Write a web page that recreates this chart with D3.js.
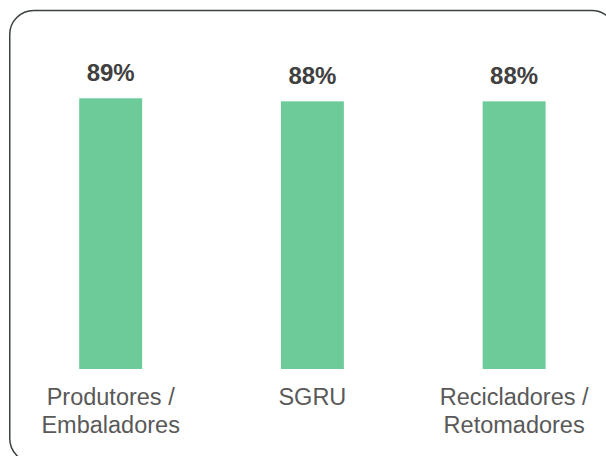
<!DOCTYPE html>
<html>
<head>
<meta charset="utf-8">
<script src="https://cdn.jsdelivr.net/npm/d3@7"></script>
<style>
  html, body { margin: 0; padding: 0; background: #fff; }
  svg { display: block; }
</style>
</head>
<body>
<svg id="chart" width="606" height="456"></svg>
<script>
const categories = [["Produtores /", "Embaladores"], ["SGRU"], ["Recicladores /", "Retomadores"]];
const values = [89, 88, 88];
const valueLabels = ["89%", "88%", "88%"];

const svg = d3.select("#chart");

// frame
svg.append("rect")
  .attr("x", 9.75).attr("y", 10.5)
  .attr("width", 606).attr("height", 452)
  .attr("rx", 24).attr("ry", 24)
  .attr("fill", "none")
  .attr("stroke", "#3b4141")
  .attr("stroke-width", 1.5);

const x = d3.scaleBand()
  .domain(d3.range(values.length))
  .range([9.8, 615])
  .paddingInner(0.688)
  .paddingOuter(0.344);

const y = d3.scaleLinear()
  .domain([0, 89])
  .range([369, 98.3]);

svg.selectAll("rect.bar")
  .data(values)
  .enter().append("rect")
  .attr("class", "bar")
  .attr("x", (d, i) => x(i))
  .attr("width", x.bandwidth())
  .attr("y", d => y(d))
  .attr("height", d => y(0) - y(d))
  .attr("fill", "#6dcb99");

svg.selectAll("text.val")
  .data(values)
  .enter().append("text")
  .attr("class", "val")
  .attr("x", (d, i) => x(i) + x.bandwidth() / 2)
  .attr("y", d => y(d) - 17)
  .attr("text-anchor", "middle")
  .attr("font-family", "Liberation Sans, Arial, sans-serif")
  .attr("font-weight", "bold")
  .attr("font-size", 24)
  .attr("fill", "#404040")
  .text((d, i) => valueLabels[i]);

const cat = svg.selectAll("text.cat")
  .data(categories)
  .enter().append("text")
  .attr("class", "cat")
  .attr("x", (d, i) => x(i) + x.bandwidth() / 2)
  .attr("y", 405)
  .attr("text-anchor", "middle")
  .attr("font-family", "Liberation Sans, Arial, sans-serif")
  .attr("font-size", 23.5)
  .attr("fill", "#595959");

cat.selectAll("tspan")
  .data((d, i) => d.map(t => ({ t, i })))
  .enter().append("tspan")
  .attr("x", d => x(d.i) + x.bandwidth() / 2)
  .attr("dy", (d, j) => j === 0 ? 0 : 27.5)
  .text(d => d.t);
</script>
</body>
</html>
